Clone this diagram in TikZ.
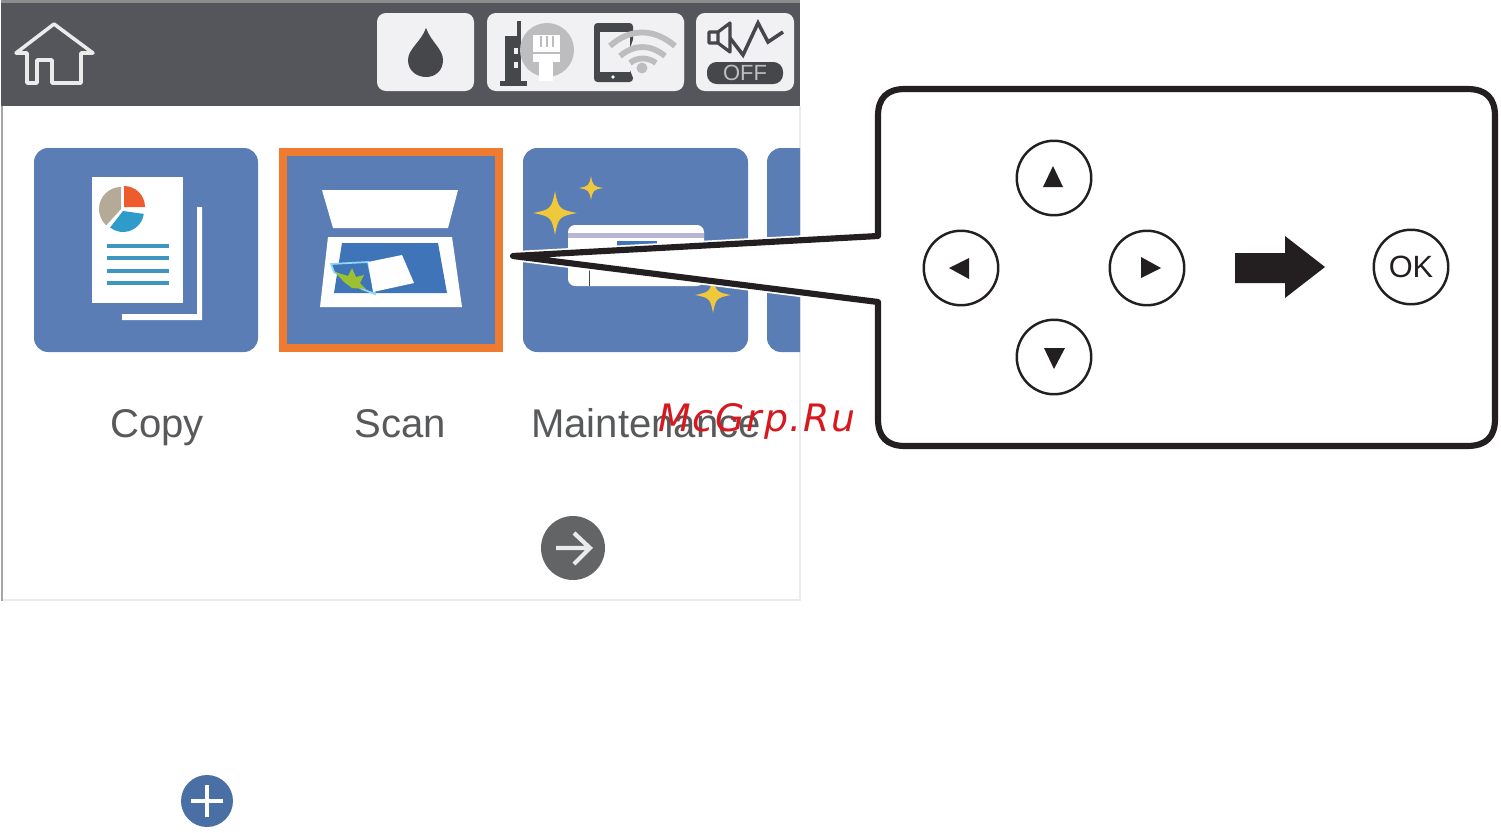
\documentclass[tikz,border=0pt]{standalone}
\usepackage{fontspec}
\setmainfont{Liberation Sans}
\newfontfamily\wmfont[LetterSpace=5]{DejaVu Sans}
\definecolor{headc}{HTML}{54565B}
\definecolor{btnc}{HTML}{F1F0F2}
\definecolor{tilec}{HTML}{5B7DB6}
\definecolor{orangec}{HTML}{EE7B30}
\definecolor{inkc}{HTML}{231F20}
\definecolor{labelc}{HTML}{58595B}
\definecolor{darkic}{HTML}{45474B}
\definecolor{greyic}{HTML}{BDBDBF}
\definecolor{linec}{HTML}{3F95C2}
\definecolor{glassc}{HTML}{3F74B8}
\definecolor{starc}{HTML}{F0C93A}
\definecolor{plusc}{HTML}{4A6FA5}
\definecolor{nextc}{HTML}{636466}
\definecolor{wmc}{HTML}{D7191F}
\definecolor{piered}{HTML}{EE5B2D}
\definecolor{pietan}{HTML}{B5AA98}
\definecolor{pieblue}{HTML}{2F9BCB}
\tikzset{
  x=0.02cm,y=-0.02cm,
  btnbox/.style={fill=btnc,rounded corners=5pt},
  tilebox/.style={fill=tilec,rounded corners=8pt},
  keyround/.style={circle,draw=inkc,line width=1.4pt,fill=white,minimum size=1.49cm,inner sep=0pt},
  applabel/.style={anchor=base,text=labelc,font=\fontsize{22.8}{26}\selectfont,inner sep=0pt},
  sparkle/.pic={\fill[starc] (-1,0) .. controls (-.2,-.15) and (-.15,-.2) .. (0,-1) .. controls (.15,-.2) and (.2,-.15) .. (1,0) .. controls (.2,.15) and (.15,.2) .. (0,1) .. controls (-.15,.2) and (-.2,.15) .. (-1,0) -- cycle;}
}
\begin{document}
\begin{tikzpicture}
\useasboundingbox (0,0) rectangle (1501,832);
\fill[white] (0,0) rectangle (1501,832);
% panel
\draw[line width=.6pt,color=black!8] (800,106) -- (800,600) -- (2,600);
\draw[line width=1pt,color=black!35] (2,106) -- (2,601);
\fill[black!45] (1,0) rectangle (800,3);
\fill[headc] (1,3) rectangle (800,106);
% home
\draw[white!92!black,line width=2pt,line join=round] (16,53) -- (54,24) -- (93,53) -- (81,53) -- (81,83) -- (52,83) -- (52,60) -- (37,60) -- (37,83) -- (27,83) -- (27,53) -- cycle;
% status buttons
\fill[btnbox] (377,13) rectangle (474,91);
\fill[btnbox] (487,13) rectangle (684,91);
\fill[btnbox] (696,13) rectangle (794,91);
% ink drop
\fill[darkic] (426,28) .. controls (431,42) and (443,49) .. (443,60) .. controls (443,71) and (435,77) .. (426,77) .. controls (417,77) and (408,71) .. (408,60) .. controls (408,49) and (421,42) .. (426,28) -- cycle;
% router
\fill[darkic] (517,21) rectangle (521,36);
\fill[darkic] (505,36) rectangle (521,82);
\fill[darkic] (500,81) rectangle (527,86);
\fill[btnc] (514,48) rectangle (518,54);
\fill[btnc] (514,62) rectangle (518,68);
% ethernet
\fill[greyic] (547,50) circle[radius=27];
\fill[white] (533,35) rectangle (560,62);
\fill[white] (539,62) rectangle (553,81);
\fill[greyic] (540,36) rectangle (542,47);
\fill[greyic] (546,36) rectangle (548,47);
\fill[greyic] (552,36) rectangle (554,47);
\fill[greyic] (533,52) rectangle (560,54);
% tablet
\fill[darkic,rounded corners=2pt] (594,23) rectangle (633,82);
\fill[btnc] (600,32) rectangle (630,72);
\fill[white] (613,77) circle[radius=1.8];
% wifi
\fill[btnc] (626,60) -- (640,20) -- (684,20) -- (684,80) -- (634,80) -- cycle;
\fill[greyic] (642,68) circle[radius=5.5];
\draw[greyic,line width=3.3pt] (610,46) .. controls (630,28) and (654,28) .. (675,46);
\draw[greyic,line width=3.3pt] (620,56) .. controls (635,44) and (650,44) .. (665,56);
\draw[greyic,line width=3.3pt] (630,63) .. controls (637,57) and (648,57) .. (656,63);
% sound
\draw[darkic,line width=1.8pt,line join=round] (709,32) -- (718,32) -- (730,23) -- (730,52) -- (718,43) -- (709,43) -- cycle (718,32) -- (718,43);
\draw[darkic,line width=2pt,line join=miter] (730,38) -- (743,55) -- (758,23) -- (768,42) -- (783,32);
\fill[darkic,rounded corners=5.5pt] (707,62) rectangle (783,84);
\node[text=white!75!black,font=\fontsize{12.5}{14}\selectfont,inner sep=0pt] (off) at (745,73) {OFF};
% tiles
\fill[tilebox] (34,148) rectangle (258,352);
\fill[orangec] (279,148) rectangle (503,352);
\fill[tilec] (287,156) rectangle (495,344);
\fill[tilebox] (523,148) rectangle (748,352);
\begin{scope}
\clip (760,140) rectangle (800,360);
\fill[tilebox] (767,148) rectangle (840,352);
\end{scope}
% copy icon
\fill[white] (197,207) -- (202,207) -- (202,320) -- (122,320) -- (122,314) -- (197,314) -- cycle;
\fill[white] (92,177) rectangle (183,303);
\fill[piered] (124,207) -- +(-90:21) arc[start angle=-90,end angle=0,radius=21] -- cycle;
\fill[pietan] (121,209) -- +(-90:22) arc[start angle=-90,end angle=-228,radius=22] -- cycle;
\fill[pieblue] (123,211) -- +(8:21) arc[start angle=8,end angle=128,radius=21] -- cycle;
\fill[linec] (107,243.5) rectangle (169,247.5);
\fill[linec] (107,256) rectangle (169,260);
\fill[linec] (107,269) rectangle (169,273);
\fill[linec] (107,281) rectangle (169,285);
% scan icon
\fill[white] (322,190) -- (458,190) -- (448,228) -- (333,228) -- cycle;
\fill[white] (328,237) -- (452,237) -- (462,307) -- (320,307) -- cycle;
\fill[glassc] (342,243) -- (438,243) -- (447,293) -- (334,293) -- cycle;
\filldraw[draw=cyan!45!white,fill=glassc,line width=1pt] (331,264) -- (368,262) -- (375,294) -- (362,289) -- (334,272) -- cycle;
\fill[yellow!65!green!85!black] (335,272) -- (348,276) -- (352,268) -- (356,277) -- (364,275) -- (360,283) -- (366,289) -- (352,288) -- (344,282) -- cycle;
\fill[white] (368,262) -- (402,255) -- (414,283) -- (373,292) -- cycle;
% maintenance icon
\fill[white,rounded corners=4pt] (568,225) rectangle (704,286);
\fill[blue!25!gray!45!white] (568,233) rectangle (704,238);
\fill[glassc] (617,241) rectangle (657,250);
\fill[darkic] (588.5,270) rectangle (590,286);
\pic[scale=22] at (555,213) {sparkle};
\pic[scale=12] at (591,188) {sparkle};
\pic[scale=18] at (713,295) {sparkle};
% labels
\node[applabel] (copy) at (157,437) {Copy};
\node[applabel] (scan) at (400,437) {Scan};
\node[applabel] (maint) at (646,437) {Maintenance};
% next
\node[circle,fill=nextc,minimum size=1.28cm,inner sep=0pt] (next) at (573,548) {};
\draw[white!92!black,line width=2.4pt,line join=miter] (556,548) -- (589,548) (574,533) -- (590,548) -- (574,564);
% plus
\node[circle,fill=plusc,minimum size=1.04cm,inner sep=0pt] (plus) at (207,801) {};
\draw[white,line width=1.8pt] (191,801) -- (223,801) (207,785) -- (207,817);
% callout
\draw[white,line width=5.5pt,line join=round] (878,236) -- (513,256) -- (878,302);
\draw[fill=white,draw=inkc,line width=3.5pt,line join=round] (513,256) -- (878,236) -- (878,116) .. controls (878,98) and (887,89) .. (905,89) -- (1467,89) .. controls (1486,89) and (1495,98) .. (1495,116) -- (1495,419) .. controls (1495,437) and (1486,446) .. (1467,446) -- (905,446) .. controls (887,446) and (878,437) .. (878,419) -- (878,302) -- cycle;
% keys
\node[keyround] (up) at (1054,178) {};
\node[keyround] (left) at (961,268) {};
\node[keyround] (right) at (1147,268) {};
\node[keyround] (down) at (1054,357) {};
\node[keyround,font=\fontsize{17.5}{18}\selectfont,text=inkc] (ok) at (1411,267) {OK};
\fill[inkc] (1053,166) -- (1063,187) -- (1043,187) -- cycle;
\fill[inkc] (949,268) -- (969,258) -- (969,279) -- cycle;
\fill[inkc] (1161,268) -- (1141,257) -- (1141,278) -- cycle;
\fill[inkc] (1054,369) -- (1044,348) -- (1065,348) -- cycle;
\fill[inkc,line join=round] (1235,253) -- (1285,253) -- (1285,236) -- (1325,267) -- (1285,298) -- (1285,283) -- (1235,283) -- cycle;
% watermark
\node[anchor=base west,inner sep=0pt,text=wmc,font=\wmfont\itshape\fontsize{21.5}{24}\selectfont] (mark) at (658,431) {McGrp.Ru};
\end{tikzpicture}
\end{document}
